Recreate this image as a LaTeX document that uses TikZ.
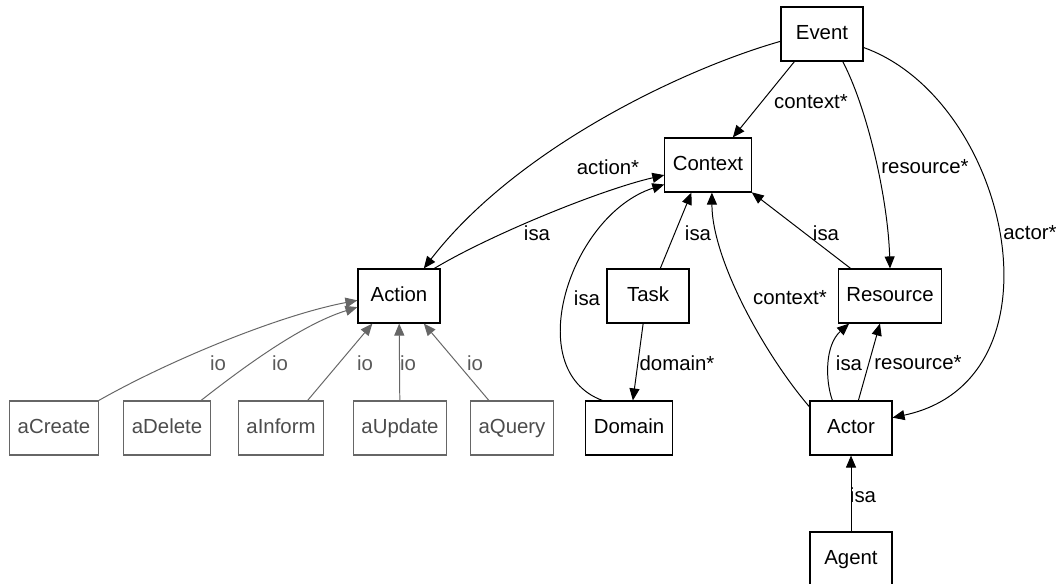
\documentclass[tikz,border=0pt]{standalone}
\usepackage{fontspec}
\setmainfont{Liberation Sans}
\usetikzlibrary{arrows.meta}

\begin{document}
\begin{tikzpicture}[x=0.025cm,y=-0.025cm,
  box/.style={draw,line width=0.8pt,minimum width=2.05cm,minimum height=1.35cm,
    inner xsep=0.2cm,text height=10.5pt,text depth=3pt,font=\fontsize{14.5}{17}\selectfont},
  graybox/.style={box,draw=black!60,text=black!70},
  arr/.style={-{Triangle[length=0.3cm,width=0.25cm]},line width=0.7pt},
  grayarr/.style={arr,draw=black!60},
  lbl/.style={font=\fontsize{14.5}{17}\selectfont,inner sep=1pt},
  graylbl/.style={lbl,text=black!65}]
\path[use as bounding box,fill=white](0,0) rectangle (1058,584);

% nodes
\node[box](event) at (822,34){Event};
\node[box](context) at (708,165){Context};
\node[box](action) at (399,296){Action};
\node[box](task) at (648,296){Task};
\node[box](resource) at (890,296){Resource};
\node[box](domain) at (629,428){Domain};
\node[box](actor) at (851,428){Actor};
\node[box](agent) at (851,559){Agent};
\node[graybox](acreate) at (54,428){aCreate};
\node[graybox](adelete) at (167,428){aDelete};
\node[graybox](ainform) at (281,428){aInform};
\node[graybox](aupdate) at (400,428){aUpdate};
\node[graybox](aquery) at (512,428){aQuery};

% event
\draw[arr](event.190) .. controls (680,70) and (515,150) .. (action.48)
  node[lbl] at (608,167){action*};
\draw[arr](event.225)--(context.48) node[lbl] at (811,102){context*};
\draw[arr](event.-53) .. controls (868,110) and (888,200) .. (resource.north)
  node[lbl] at (925,167){resource*};
\draw[arr](event.-18) .. controls (1010,100) and (1070,380) .. (actor.14)
  node[lbl] at (1030,233){actor*};

% isa to context
\draw[arr](action.38) .. controls (490,235) and (600,190) .. (context.193)
  node[lbl] at (537,233){isa};
\draw[arr](domain.134) .. controls (520,370) and (570,215) .. (context.204)
  node[lbl] at (587,298){isa};
\draw[arr](task.66)--(context.239) node[lbl] at (698,233){isa};
\draw[arr](resource.145)--(context.-32) node[lbl] at (826,233){isa};
\draw[arr](task.260)--(domain.82) node[lbl] at (677,363){domain*};

% actor
\draw[arr](actor.153) .. controls (765,355) and (712,260) .. (context.-82)
  node[lbl] at (790,298){context*};
\draw[arr](actor.124) .. controls (825,380) and (825,345) .. (resource.214)
  node[lbl] at (849,363){isa};
\draw[arr](actor.75)--(resource.250) node[lbl] at (918,363){resource*};
\draw[arr](agent)--(actor) node[lbl] at (863,495){isa};

% io
\draw[grayarr](acreate.north east) .. controls (170,360) and (280,315) .. (action.186)
  node[graylbl] at (218,363){io};
\draw[grayarr](adelete.39) .. controls (240,370) and (300,325) .. (action.195)
  node[graylbl] at (280,363){io};
\draw[grayarr](ainform.46)--(action.226) node[graylbl] at (365,363){io};
\draw[grayarr](aupdate)--(action) node[graylbl] at (408,363){io};
\draw[grayarr](aquery.130)--(action.-48) node[graylbl] at (475,363){io};
\end{tikzpicture}
\end{document}
